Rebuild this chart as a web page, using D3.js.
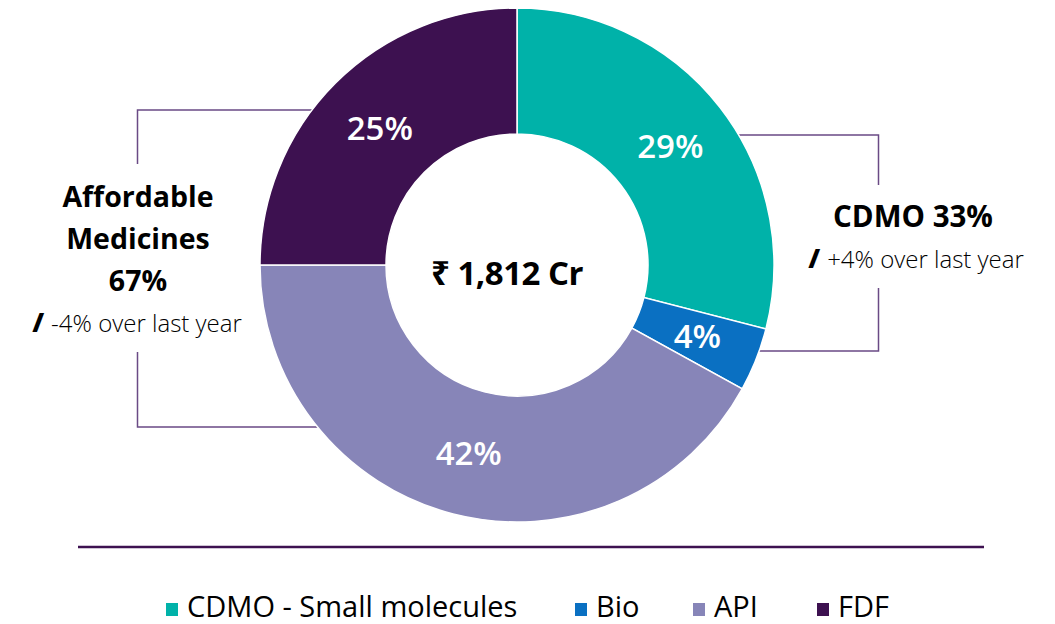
<!DOCTYPE html>
<head>
<meta charset="utf-8">
<style>
  html,body {
    margin: 0;
    padding: 0;
    background: white;
    font-family: "Open Sans", "Noto Sans", sans-serif;
  }
</style>
<script src="https://d3js.org/d3.v7.min.js"></script>
</head>

<body>
<div id="donut_viz"></div>

<script>
// segment data (clockwise from 12 o'clock)
var segments = ["CDMO - Small molecules", "Bio", "API", "FDF"];
var shares = [29, 4, 42, 25];
var colors = ["#00b2a9", "#0a70c2", "#8785b8", "#3d1150"];
var totalLabel = "₹ 1,812 Cr";

// group call-outs
var leftGroup = ["Affordable", "Medicines", "67%"];
var leftChange = "-4% over last year";
var rightGroup = ["CDMO 33%"];
var rightChange = "+4% over last year";

var width = 1055, height = 624;
var cx = 517, cy = 265,
    outerR = 257, innerR = 131;

var svg = d3.select("#donut_viz")
  .append("svg")
    .attr("width", width)
    .attr("height", height);

var bracketColor = "#6a4a85";

// brackets (drawn first so the donut covers their ends)
const edgeX = (y, side) => cx + side * Math.sqrt(outerR * outerR - (y - cy) * (y - cy));

var brackets = svg.append("g")
  .attr("fill", "none")
  .attr("stroke", bracketColor)
  .attr("stroke-width", 1.5);

// left
brackets.append("path")
  .attr("d", `M${edgeX(110, -1) + 4},110 H137.5 V164`);
brackets.append("path")
  .attr("d", `M137.5,352 V427 H${edgeX(427, -1) + 4}`);
// right
brackets.append("path")
  .attr("d", `M${edgeX(135, 1) - 4},135 H878.5 V185`);
brackets.append("path")
  .attr("d", `M878.5,288 V351 H${edgeX(351, 1) - 4}`);

// donut
var pie = d3.pie().sort(null).value(d => d.value);
var arc = d3.arc().innerRadius(innerR).outerRadius(outerR);

var data = segments.map((s, i) => ({name: s, value: shares[i], color: colors[i]}));
var arcs = pie(data);

var g = svg.append("g")
  .attr("transform", "translate(" + cx + "," + cy + ")");

g.selectAll("path.slice")
  .data(arcs)
  .enter()
  .append("path")
    .attr("class", "slice")
    .attr("d", arc)
    .attr("fill", d => d.data.color)
    .attr("stroke", "white")
    .attr("stroke-width", 1.5);

g.selectAll("text.pct")
  .data(arcs)
  .enter()
  .append("text")
    .attr("class", "pct")
    .attr("transform", d => "translate(" + arc.centroid(d) + ")")
    .attr("text-anchor", "middle")
    .attr("dy", "0.36em")
    .attr("fill", "white")
    .attr("font-size", "33px")
    .attr("font-weight", 600)
    .text(d => d.data.value + "%");

// centre total
svg.append("text")
  .attr("x", 507)
  .attr("y", 285)
  .attr("text-anchor", "middle")
  .attr("font-size", "33px")
  .attr("font-weight", 700)
  .attr("letter-spacing", "-0.5px")
  .attr("fill", "black")
  .text(totalLabel);

// left call-out
var leftY = [207, 249, 291];
leftGroup.forEach((t, i) => {
  svg.append("text")
    .attr("x", 138)
    .attr("y", leftY[i])
    .attr("text-anchor", "middle")
    .attr("font-size", "28.5px")
    .attr("font-weight", 700)
    .attr("fill", "black")
    .text(t);
});
var lc = svg.append("text")
  .attr("x", 137)
  .attr("y", 332)
  .attr("text-anchor", "middle")
  .attr("font-size", "24px")
  .attr("font-weight", 300)
  .attr("fill", "black");
lc.append("tspan").attr("font-weight", 800).attr("font-size", "27px").text("/ ");
lc.append("tspan").text(leftChange);

// right call-out
svg.append("text")
  .attr("x", 913)
  .attr("y", 227)
  .attr("text-anchor", "middle")
  .attr("font-size", "29.5px")
  .attr("font-weight", 700)
  .attr("fill", "black")
  .text(rightGroup[0]);
var rc = svg.append("text")
  .attr("x", 916)
  .attr("y", 268)
  .attr("text-anchor", "middle")
  .attr("font-size", "24px")
  .attr("font-weight", 300)
  .attr("fill", "black");
rc.append("tspan").attr("font-weight", 800).attr("font-size", "27px").text("/ ");
rc.append("tspan").text(rightChange);

// divider
svg.append("line")
  .attr("x1", 78).attr("x2", 984)
  .attr("y1", 547).attr("y2", 547)
  .attr("stroke", "#3d1150")
  .attr("stroke-width", 2.5);

// legend
var legendX = [166, 575, 693, 817];
var legend = svg.selectAll("g.legend")
  .data(data)
  .enter()
  .append("g")
    .attr("class", "legend")
    .attr("transform", (d, i) => "translate(" + legendX[i] + ",0)");

legend.append("rect")
  .attr("x", 0).attr("y", 603)
  .attr("width", 12).attr("height", 13)
  .attr("fill", d => d.color);

legend.append("text")
  .attr("x", 21)
  .attr("y", 617)
  .attr("font-size", "29px")
  .attr("fill", "black")
  .text(d => d.name);
</script>
</body>
</html>
